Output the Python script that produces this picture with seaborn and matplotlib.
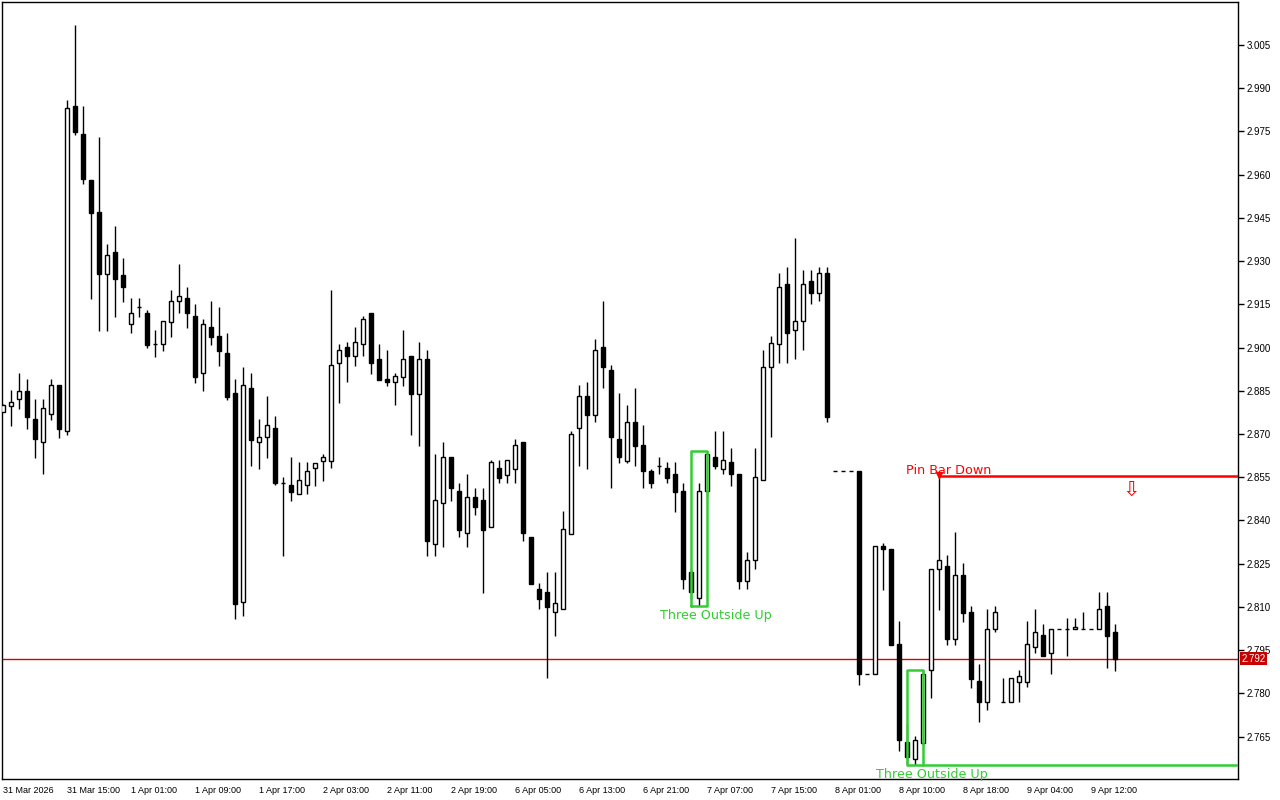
import numpy as np
import pandas as pd
import matplotlib
matplotlib.use("Agg")
import matplotlib.pyplot as plt
import matplotlib.transforms as mtransforms
from matplotlib import font_manager
import seaborn as sns

# hourly candles
opens = [2.8778, 2.8797, 2.8821, 2.8850, 2.8751, 2.8671, 2.8769, 2.8870, 2.8710, 2.9838,
         2.9741, 2.9582, 2.9470, 2.9256, 2.9331, 2.9251, 2.9081, 2.9141, 2.9119, 2.9011,
         2.9011, 2.9090, 2.9161, 2.9172, 2.9110, 2.8911, 2.9071, 2.9040, 2.8980, 2.8841,
         2.8118, 2.8859, 2.8671, 2.8689, 2.8720, 2.8529, 2.8523, 2.8491, 2.8522, 2.8581,
         2.8608, 2.8608, 2.8948, 2.9001, 2.8969, 2.9012, 2.9120, 2.8959, 2.8890, 2.8879,
         2.8899, 2.8971, 2.8839, 2.8959, 2.8320, 2.8460, 2.8619, 2.8501, 2.8358, 2.8481,
         2.8470, 2.8379, 2.8581, 2.8559, 2.8580, 2.8673, 2.8343, 2.8161, 2.8151, 2.8081,
         2.8092, 2.8352, 2.8720, 2.8832, 2.8767, 2.9001, 2.8921, 2.8682, 2.8608, 2.8741,
         2.8661, 2.8571, 2.8590, 2.8581, 2.8560, 2.8501, 2.8221, 2.8130, 2.8501, 2.8619,
         2.8580, 2.8602, 2.8560, 2.8191, 2.8262, 2.8541, 2.8932, 2.9012, 2.9221, 2.9060,
         2.9091, 2.9230, 2.9189, 2.9258, 2.8570, 2.8570, 2.8570, 2.8572, 2.7868, 2.7868,
         2.8310, 2.8301, 2.7971, 2.7630, 2.7571, 2.7629, 2.7881, 2.8230, 2.8241, 2.7989,
         2.8211, 2.8082, 2.7843, 2.7771, 2.8022, 2.7771, 2.7771, 2.7840, 2.7840, 2.7960,
         2.8001, 2.7941, 2.8022, 2.8022, 2.8022, 2.8022, 2.8022, 2.8022, 2.8102, 2.8012]
highs = [2.8805, 2.8852, 2.8913, 2.8891, 2.8822, 2.8822, 2.8891, 2.8870, 2.9859, 3.0119,
         2.9838, 2.9582, 2.9732, 2.9358, 2.9422, 2.9311, 2.9172, 2.9172, 2.9130, 2.9061,
         2.9091, 2.9200, 2.9290, 2.9211, 2.9151, 2.9099, 2.9162, 2.9142, 2.9052, 2.8890,
         2.8934, 2.8911, 2.8752, 2.8832, 2.8763, 2.8550, 2.8619, 2.8602, 2.8602, 2.8601,
         2.8631, 2.9200, 2.9013, 2.9020, 2.9071, 2.9110, 2.9120, 2.9013, 2.8992, 2.8911,
         2.9061, 2.8971, 2.9020, 2.8992, 2.8631, 2.8673, 2.8619, 2.8531, 2.8561, 2.8513,
         2.8513, 2.8610, 2.8610, 2.8609, 2.8682, 2.8673, 2.8343, 2.8184, 2.8221, 2.8221,
         2.8433, 2.8711, 2.8870, 2.8881, 2.9030, 2.9162, 2.8939, 2.8841, 2.8801, 2.8860,
         2.8732, 2.8580, 2.8619, 2.8603, 2.8603, 2.8529, 2.8232, 2.8529, 2.8641, 2.8711,
         2.8711, 2.8651, 2.8560, 2.8291, 2.8651, 2.8992, 2.9040, 2.9258, 2.9281, 2.9380,
         2.9270, 2.9270, 2.9279, 2.9279, 2.8570, 2.8570, 2.8570, 2.8572, 2.7868, 2.8310,
         2.8321, 2.8301, 2.8051, 2.7694, 2.7652, 2.7881, 2.8230, 2.8553, 2.8280, 2.8361,
         2.8251, 2.8103, 2.7901, 2.8092, 2.8103, 2.7852, 2.7852, 2.7881, 2.8051, 2.8092,
         2.8041, 2.8022, 2.8022, 2.8060, 2.8060, 2.8081, 2.8022, 2.8151, 2.8151, 2.8041]
lows = [2.8775, 2.8727, 2.8787, 2.8718, 2.8618, 2.8560, 2.8749, 2.8687, 2.8697, 2.9738,
        2.9569, 2.9170, 2.9059, 2.9059, 2.9107, 2.9159, 2.9050, 2.9107, 2.9000, 2.8968,
        2.8989, 2.9038, 2.9119, 2.9069, 2.8878, 2.8850, 2.9010, 2.8937, 2.8818, 2.8059,
        2.8070, 2.8589, 2.8579, 2.8618, 2.8523, 2.8278, 2.8469, 2.8491, 2.8491, 2.8521,
        2.8538, 2.8581, 2.8809, 2.8879, 2.8936, 2.8969, 2.8909, 2.8889, 2.8868, 2.8799,
        2.8867, 2.8697, 2.8659, 2.8277, 2.8277, 2.8309, 2.8469, 2.8342, 2.8309, 2.8419,
        2.8150, 2.8379, 2.8529, 2.8529, 2.8529, 2.8330, 2.8181, 2.8092, 2.7852, 2.8000,
        2.8092, 2.8352, 2.8590, 2.8580, 2.8740, 2.8858, 2.8511, 2.8601, 2.8601, 2.8590,
        2.8511, 2.8511, 2.8560, 2.8529, 2.8431, 2.8162, 2.8129, 2.8103, 2.8481, 2.8580,
        2.8560, 2.8521, 2.8161, 2.8161, 2.8231, 2.8541, 2.8688, 2.8948, 2.8948, 2.8959,
        2.8990, 2.9150, 2.9160, 2.8740, 2.8570, 2.8570, 2.8570, 2.7829, 2.7868, 2.7868,
        2.8159, 2.7969, 2.7601, 2.7554, 2.7551, 2.7621, 2.7783, 2.8089, 2.7968, 2.7968,
        2.8049, 2.7820, 2.7702, 2.7742, 2.8012, 2.7771, 2.7771, 2.7771, 2.7821, 2.7941,
        2.7931, 2.7868, 2.8022, 2.7931, 2.8022, 2.8022, 2.8022, 2.8022, 2.7889, 2.7879]
closes = [2.8801, 2.8810, 2.8850, 2.8760, 2.8682, 2.8789, 2.8870, 2.8718, 2.9830, 2.9749,
          2.9585, 2.9468, 2.9256, 2.9320, 2.9239, 2.9209, 2.9119, 2.9140, 2.9010, 2.9011,
          2.9091, 2.9161, 2.9179, 2.9119, 2.8899, 2.9082, 2.9038, 2.8989, 2.8830, 2.8110,
          2.8869, 2.8679, 2.8689, 2.8730, 2.8529, 2.8529, 2.8500, 2.8539, 2.8571, 2.8601,
          2.8619, 2.8940, 2.8992, 2.8969, 2.9019, 2.9098, 2.8948, 2.8889, 2.8879, 2.8900,
          2.8959, 2.8839, 2.8959, 2.8330, 2.8470, 2.8619, 2.8511, 2.8368, 2.8481, 2.8448,
          2.8368, 2.8602, 2.8548, 2.8609, 2.8661, 2.8358, 2.8181, 2.8129, 2.8101, 2.8113,
          2.8369, 2.8699, 2.8832, 2.8767, 2.8992, 2.8932, 2.8688, 2.8619, 2.8741, 2.8660,
          2.8571, 2.8529, 2.8590, 2.8548, 2.8500, 2.8197, 2.8151, 2.8501, 2.8630, 2.8590,
          2.8609, 2.8560, 2.8191, 2.8262, 2.8550, 2.8932, 2.9017, 2.9209, 2.9049, 2.9091,
          2.9221, 2.9189, 2.9258, 2.8760, 2.8570, 2.8570, 2.8570, 2.7868, 2.7868, 2.8310,
          2.8300, 2.7969, 2.7638, 2.7580, 2.7639, 2.7869, 2.8230, 2.8262, 2.7989, 2.8211,
          2.8080, 2.7851, 2.7771, 2.8022, 2.8081, 2.7771, 2.7852, 2.7861, 2.7970, 2.8012,
          2.7931, 2.8022, 2.8022, 2.8022, 2.8031, 2.8022, 2.8022, 2.8092, 2.8000, 2.7920]

time_labels = ["31 Mar 2026", "31 Mar 15:00", "1 Apr 01:00", "1 Apr 09:00", "1 Apr 17:00",
               "2 Apr 03:00", "2 Apr 11:00", "2 Apr 19:00", "6 Apr 05:00", "6 Apr 13:00",
               "6 Apr 21:00", "7 Apr 07:00", "7 Apr 15:00", "8 Apr 01:00", "8 Apr 10:00",
               "8 Apr 18:00", "9 Apr 04:00", "9 Apr 12:00"]
price_ticks = [2.765, 2.780, 2.795, 2.810, 2.825, 2.840, 2.855, 2.870, 2.885,
               2.900, 2.915, 2.930, 2.945, 2.960, 2.975, 2.990, 3.005]
current_price = 2.792

# pattern bars (first, last) and pin bar index
outside_up_1 = (86, 88)
outside_up_2 = (113, 115)
pin_bar = 117

GREEN = "#32CD32"
RED = "#FF0000"

sns.set_theme(style="white")
names = {f.name for f in font_manager.fontManager.ttflist}
small_font = "Liberation Sans" if "Liberation Sans" in names else "DejaVu Sans"
plt.rcParams["font.family"] = [small_font, "DejaVu Sans"]

df = pd.DataFrame({"open": opens, "high": highs, "low": lows, "close": closes})
df["idx"] = np.arange(len(df))
df["up"] = df["close"] >= df["open"]

fig = plt.figure(figsize=(12.8, 8), dpi=100)
fig.patch.set_facecolor("white")
ax = fig.add_axes([2 / 1280, 21 / 800, 1236 / 1280, 777 / 800])
ax.set_facecolor("white")

x_left, x_right = -0.1, 154.4
ax.set_xlim(x_left, x_right)
ax.set_ylim(2.7503, 3.0199)

# wicks then bodies
ax.vlines(df["idx"], df["low"], df["high"], color="black", lw=1, zorder=2)
body_colors = np.where(df["up"], "white", "black")
ax.bar(df["idx"], df["close"] - df["open"], bottom=df["open"], width=0.55,
       color=body_colors, edgecolor="black", linewidth=1, zorder=3)

# current price line
ax.axhline(current_price, color="#E00000", lw=1, zorder=1)
trans = mtransforms.blended_transform_factory(ax.transAxes, ax.transData)
ax.text(1.0025, current_price, f"{current_price:.3f}", transform=trans, color="white",
        fontsize=7, va="center", ha="left", clip_on=False, zorder=10,
        bbox=dict(boxstyle="square,pad=0.15", facecolor="#C80000", edgecolor="none"))

label_font = ["DejaVu Sans"]

# Three Outside Up #1 (rectangle)
a, b = outside_up_1
top = df["high"].iloc[a:b + 1].max()
bot = df["low"].iloc[a:b + 1].min()
ax.plot([a, a, b, b, a], [bot, top, top, bot, bot], color=GREEN, lw=1.8, zorder=4)
ax.text((a + b) / 2 + 2.2, bot - 0.0034, "Three Outside Up", color=GREEN,
        fontsize=9.2, ha="center", va="center", family=label_font, zorder=5)

# Three Outside Up #2 (open rectangle with bottom ray)
a, b = outside_up_2
top = df["high"].iloc[a:b + 1].max()
bot = df["low"].iloc[a:b + 1].min()
ax.plot([a, a, b, b], [bot, top, top, bot], color=GREEN, lw=1.8, zorder=4)
ax.hlines(bot, a, x_right, color=GREEN, lw=1.8, zorder=4)
ax.text(a + 3.2, bot - 0.0033, "Three Outside Up", color=GREEN,
        fontsize=9.2, ha="center", va="center", family=label_font, zorder=5)

# Pin bar down
ph = df["high"].iloc[pin_bar]
ax.hlines(ph, pin_bar, x_right, color=RED, lw=1.8, zorder=4)
ax.plot(pin_bar, ph + 0.0004, marker="v", color=RED, ms=4, zorder=6)
ax.text(pin_bar - 4.1, ph + 0.0021, "Pin Bar Down", color=RED,
        fontsize=9.2, ha="left", va="center", family=label_font, zorder=5)
ax.text(141.0, 2.8505, "\u21e9", color=RED, fontsize=15, ha="center", va="center",
        family=label_font, zorder=5)

# axes / ticks
ax.yaxis.tick_right()
ax.set_yticks(price_ticks)
ax.set_yticklabels([f"{p:.3f}" for p in price_ticks])
ax.set_xticks(np.arange(0, len(time_labels) * 8, 8))
ax.set_xticklabels(time_labels, ha="left")
ax.tick_params(axis="y", direction="out", length=4, width=1, color="black",
               labelsize=7, pad=2, labelcolor="black")
ax.tick_params(axis="x", direction="out", length=4, width=1, color="black",
               labelsize=6.5, pad=1, labelcolor="black")
for lab in ax.get_xticklabels():
    lab.set_horizontalalignment("left")
for s in ax.spines.values():
    s.set_color("black")
    s.set_linewidth(1)
ax.grid(False)

fig.savefig("out.png", dpi=100, facecolor="white")
